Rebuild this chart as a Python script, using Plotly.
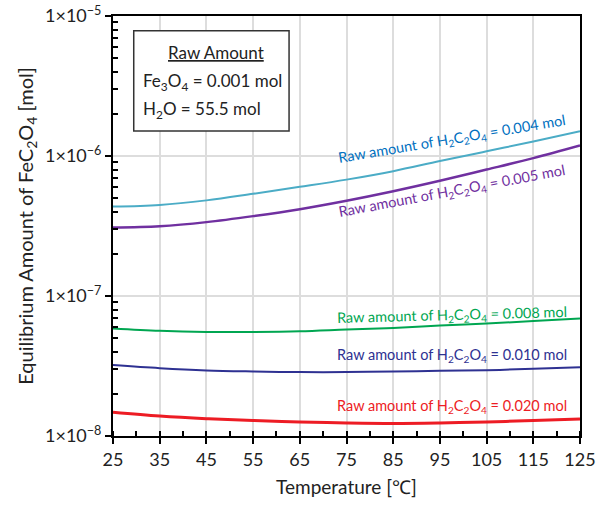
import plotly.graph_objects as go

temps = [25, 35, 45, 55, 65, 75, 85, 95, 105, 115, 125]

amt_0004 = [4.35e-7, 4.47e-7, 4.82e-7, 5.37e-7, 6.02e-7, 6.78e-7, 7.79e-7, 9.20e-7, 1.08e-6, 1.27e-6, 1.50e-6]
amt_0005 = [3.08e-7, 3.15e-7, 3.37e-7, 3.72e-7, 4.17e-7, 4.79e-7, 5.60e-7, 6.65e-7, 8.00e-7, 9.66e-7, 1.19e-6]
amt_0008 = [5.86e-8, 5.64e-8, 5.54e-8, 5.54e-8, 5.60e-8, 5.76e-8, 5.91e-8, 6.15e-8, 6.35e-8, 6.63e-8, 6.90e-8]
amt_0010 = [3.21e-8, 3.05e-8, 2.94e-8, 2.89e-8, 2.86e-8, 2.86e-8, 2.89e-8, 2.92e-8, 2.95e-8, 3.02e-8, 3.10e-8]
amt_0020 = [1.48e-8, 1.39e-8, 1.33e-8, 1.29e-8, 1.26e-8, 1.24e-8, 1.23e-8, 1.24e-8, 1.26e-8, 1.29e-8, 1.32e-8]

series_names = ["0.004", "0.005", "0.008", "0.010", "0.020"]
y_tickvals = [1e-8, 1e-7, 1e-6, 1e-5]
y_ticktext = ["1×10<sup>−8</sup>", "1×10<sup>−7</sup>", "1×10<sup>−6</sup>", "1×10<sup>−5</sup>"]
y_minor_vals = [m * 10.0 ** e for e in (-8, -7, -6) for m in range(2, 10)]

FONT = "Lato"
series = [
    (amt_0004, "#4BACC6", "#0070C0", 2.0, 97.6, -5.885, -9.5),
    (amt_0005, "#7030A0", "#7030A0", 2.5, 97.6, -6.255, -10.6),
    (amt_0008, "#00A651", "#00A651", 2.0, 97.6, -7.141, -1.5),
    (amt_0010, "#2E3192", "#2E3192", 2.0, 97.6, -7.423, 0),
    (amt_0020, "#ED1C24", "#ED1C24", 3.0, 97.6, -7.791, 0),
]

fig = go.Figure()
for name, (vals, lc, tc, lw, ax, ay, ang) in zip(series_names, series):
    fig.add_trace(go.Scatter(x=temps, y=vals, mode="lines", name=name,
                             line=dict(color=lc, width=lw, shape="spline", smoothing=1.0),
                             showlegend=False))
    fig.add_annotation(x=ax, y=ay, xref="x", yref="y", showarrow=False,
                       text=f"Raw amount of H<sub>2</sub>C<sub>2</sub>O<sub>4</sub> = {name} mol",
                       textangle=ang, font=dict(family=FONT, size=14.5, color=tc),
                       xanchor="center", yanchor="middle")

# Raw amount box
fig.add_shape(type="rect", xref="paper", yref="paper", x0=0.0444, x1=0.377, y0=0.726, y1=0.965,
              line=dict(color="#333333", width=1.5), fillcolor="white")
fig.add_annotation(x=0.220, y=0.912, xref="paper", yref="paper", showarrow=False,
                   text="<u>Raw Amount</u>", font=dict(family=FONT, size=17, color="#222"),
                   xanchor="center", yanchor="middle")
fig.add_annotation(x=0.0593, y=0.843, xref="paper", yref="paper", showarrow=False,
                   text="Fe<sub>3</sub>O<sub>4</sub> = 0.001 mol", font=dict(family=FONT, size=17, color="#222"),
                   xanchor="left", yanchor="middle")
fig.add_annotation(x=0.0593, y=0.776, xref="paper", yref="paper", showarrow=False,
                   text="H<sub>2</sub>O = 55.5 mol", font=dict(family=FONT, size=17, color="#222"),
                   xanchor="left", yanchor="middle")

fig.update_layout(
    width=598, height=517,
    margin=dict(l=113, r=18, t=16, b=81),
    paper_bgcolor="white", plot_bgcolor="white",
    font=dict(family=FONT, size=16, color="#222"),
)
fig.update_xaxes(
    range=[25, 125], tickmode="linear", tick0=25, dtick=10, automargin=False,
    showline=True, linecolor="black", linewidth=2, mirror=True,
    ticks="outside", ticklen=6, tickwidth=1.5, tickcolor="black",
    showgrid=True, gridcolor="#DDDDDD", gridwidth=1.5, zeroline=False,
    minor=dict(tick0=25, dtick=5, ticks="inside", ticklen=5, tickcolor="black", showgrid=False),
    tickfont=dict(family=FONT, size=18, color="#222"),
    title=dict(text="Temperature [℃]", font=dict(family=FONT, size=19, color="#222"), standoff=12),
)
fig.update_yaxes(
    type="log", range=[-8, -5], tickmode="array", tickvals=y_tickvals, ticktext=y_ticktext,
    automargin=False,
    showline=True, linecolor="black", linewidth=2, mirror=True,
    ticks="outside", ticklen=6, tickwidth=1.5, tickcolor="black",
    showgrid=True, gridcolor="#DDDDDD", gridwidth=1.5, zeroline=False,
    minor=dict(tickmode="array", tickvals=y_minor_vals, ticks="inside", ticklen=5,
               tickcolor="black", showgrid=False),
    tickfont=dict(family=FONT, size=18, color="#222"),
    title=dict(text="Equilibrium Amount of FeC<sub>2</sub>O<sub>4</sub> [mol]",
               font=dict(family=FONT, size=20, color="#222"), standoff=6),
)

fig.write_html("out.html")
